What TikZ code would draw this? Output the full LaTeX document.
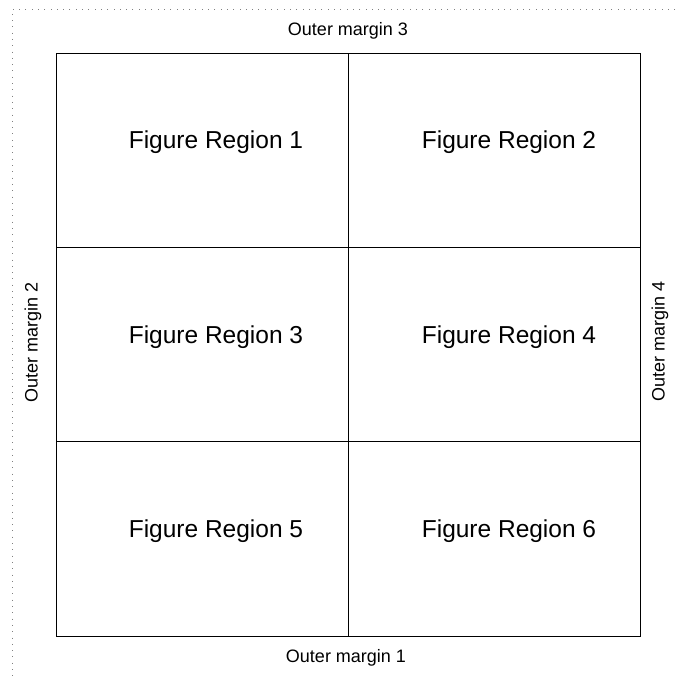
\documentclass[tikz,border=0pt]{standalone}
\usepackage{fontspec}
\setmainfont{Liberation Sans}

\begin{document}
\begin{tikzpicture}[x=1pt,y=-1pt,
    margintext/.style={font=\fontsize{18}{20}\selectfont},
    regiontext/.style={font=\fontsize{24.5}{28}\selectfont}]
        \useasboundingbox (0,0) rectangle (675,680);
        % dotted outer frame
        \draw[gray,line width=0.8pt,dash pattern=on 0.8pt off 5.5pt](675,9)--(12,9)--(12,680);
        % 3 x 2 layout of figure regions
        \draw[line width=0.9pt](56,53)rectangle(640,636);
        \draw[line width=0.9pt](348,53)--(348,636);
        \draw[line width=0.9pt](56,247)--(640,247);
        \draw[line width=0.9pt](56,441)--(640,441);
        \foreach \r/\y in {0/142,1/337,2/531}{
            \pgfmathtruncatemacro{\a}{2*\r+1}
            \pgfmathtruncatemacro{\b}{2*\r+2}
            \node[regiontext](reg\a) at(216,\y){Figure Region \a};
            \node[regiontext](reg\b) at(509,\y){Figure Region \b};
        }
        \node[margintext](om1) at(346,658){Outer margin 1};
        \node[margintext,rotate=90](om2) at(33,342){Outer margin 2};
        \node[margintext](om3) at(348,31){Outer margin 3};
        \node[margintext,rotate=90](om4) at(660,341){Outer margin 4};
    \end{tikzpicture}
\end{document}
